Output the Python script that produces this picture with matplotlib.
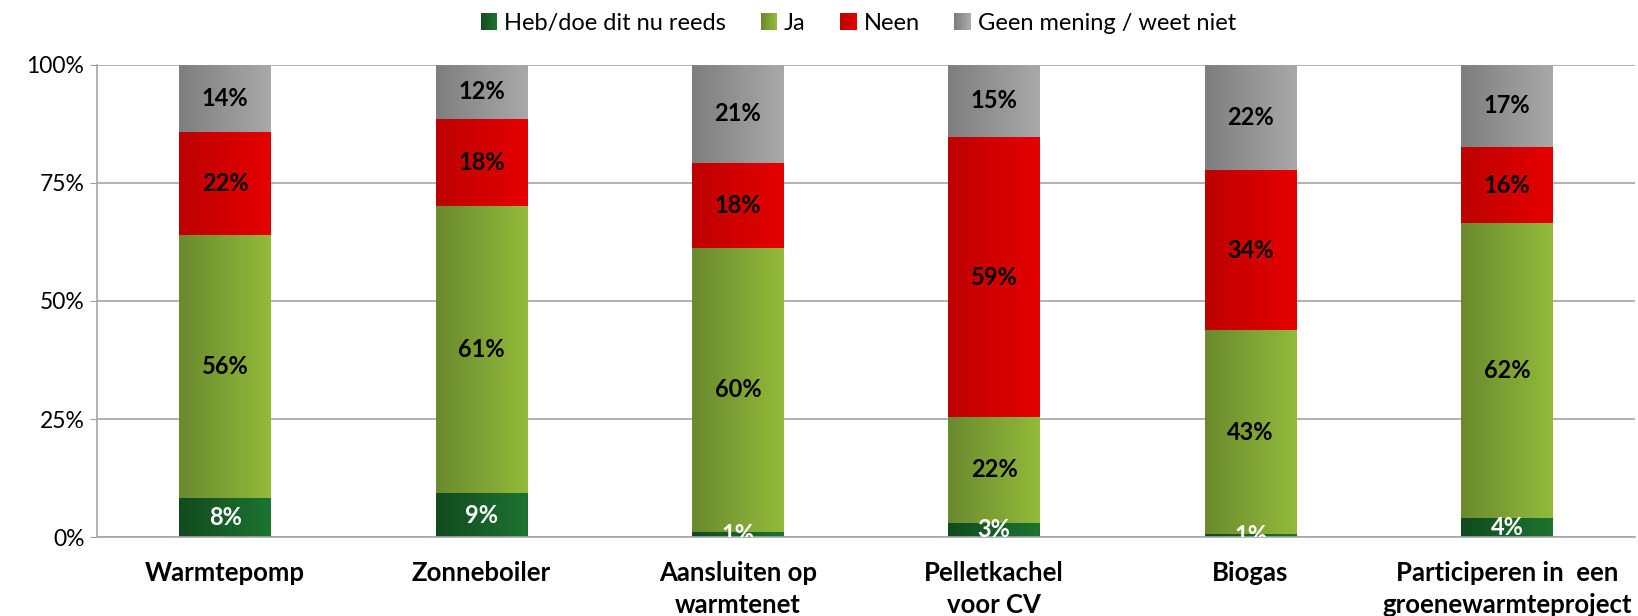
import matplotlib
matplotlib.use("Agg")
import matplotlib.pyplot as plt
import numpy as np
from matplotlib.patches import Rectangle
from matplotlib.legend_handler import HandlerBase
from matplotlib.colors import LinearSegmentedColormap

plt.rcParams['font.family'] = ['Lato', 'DejaVu Sans']

categories = ["Warmtepomp", "Zonneboiler", "Aansluiten op\nwarmtenet",
              "Pelletkachel\nvoor CV", "Biogas", "Participeren in  een\ngroenewarmteproject"]
series_names = ["Heb/doe dit nu reeds", "Ja", "Neen", "Geen mening / weet niet"]
heb = [8.2, 9.3, 1.1, 3.1, 0.7, 4.0]
ja = [55.7, 60.8, 60.2, 22.3, 43.1, 62.4]
neen = [21.9, 18.4, 17.9, 59.3, 33.9, 16.2]
geen = [14.2, 11.5, 20.8, 15.3, 22.3, 17.4]
yticks = [0, 25, 50, 75, 100]
ytick_labels = ["0%", "25%", "50%", "75%", "100%"]

series = [heb, ja, neen, geen]
grads = [("#124a1f", "#1d7431"), ("#6a8a2e", "#93ba3a"),
         ("#bd0000", "#e60000"), ("#7e7e7e", "#a9a9a9")]
text_colors = ["white", "black", "black", "black"]

fig = plt.figure(figsize=(16.38, 6.16), dpi=100)
ax = fig.add_axes([0.0592, 0.128, 0.9390, 0.767])

x = np.arange(len(categories))
width = 0.358
bottom = np.zeros(len(categories))
grad_img = np.linspace(0, 1, 256).reshape(1, -1)
for vals, (c0, c1), tc in zip(series, grads, text_colors):
    cmap = LinearSegmentedColormap.from_list("g", [c0, c1])
    bars = ax.bar(x, vals, width, bottom=bottom, color=c1, zorder=2)
    for b, v, bt in zip(bars, vals, bottom):
        bx, by = b.get_x(), b.get_y()
        im = ax.imshow(grad_img, cmap=cmap, aspect='auto',
                       extent=[bx, bx + b.get_width(), by, by + b.get_height()],
                       zorder=2.5, interpolation='bilinear')
        im.set_clip_path(b)
        ax.text(b.get_x() + b.get_width() / 2, bt + v / 2, f"{round(v)}%",
                ha='center', va='center', fontsize=17, fontweight='bold',
                color=tc, zorder=4, clip_on=True)
    bottom = bottom + np.array(vals)

ax.set_xlim(-0.5, len(categories) - 0.5)
ax.set_ylim(0, 100)
ax.set_yticks(yticks)
ax.set_yticklabels(ytick_labels, fontsize=16.5)
ax.set_xticks(x)
ax.set_xticklabels(categories, fontsize=18.5, fontweight='bold', linespacing=1.4)
ax.tick_params(axis='x', length=0, pad=17)
ax.tick_params(axis='y', length=5, color='#a0a0a0', pad=4)
ax.yaxis.grid(True, color='#a6a6a6', linewidth=1.2, zorder=0)
ax.set_axisbelow(True)
for s in ['top', 'right']:
    ax.spines[s].set_visible(False)
for s in ['left', 'bottom']:
    ax.spines[s].set_color('#a6a6a6')
    ax.spines[s].set_linewidth(1.2)


class GradHandler(HandlerBase):
    def __init__(self, c0, c1):
        super().__init__()
        self.c0, self.c1 = c0, c1

    def create_artists(self, legend, orig_handle, xdescent, ydescent,
                       width, height, fontsize, trans):
        cmap = LinearSegmentedColormap.from_list("g", [self.c0, self.c1])
        n = 10
        side = height * 1.0
        x0 = -xdescent + (width - side) / 2
        y0 = -ydescent + (height - side) / 2
        arts = []
        for i in range(n):
            r = Rectangle((x0 + side * i / n, y0), side / n * 1.05, side,
                          facecolor=cmap(i / (n - 1)), edgecolor='none',
                          transform=trans)
            arts.append(r)
        return arts


handles = [Rectangle((0, 0), 1, 1) for _ in series_names]
hmap = {h: GradHandler(*g) for h, g in zip(handles, grads)}
fig.legend(handles, series_names, handler_map=hmap, loc='center',
           bbox_to_anchor=(0.524, 0.962), ncol=4, frameon=False, fontsize=17,
           handlelength=0.7, handletextpad=0.3, columnspacing=1.45)

fig.savefig("out.png", dpi=100)
